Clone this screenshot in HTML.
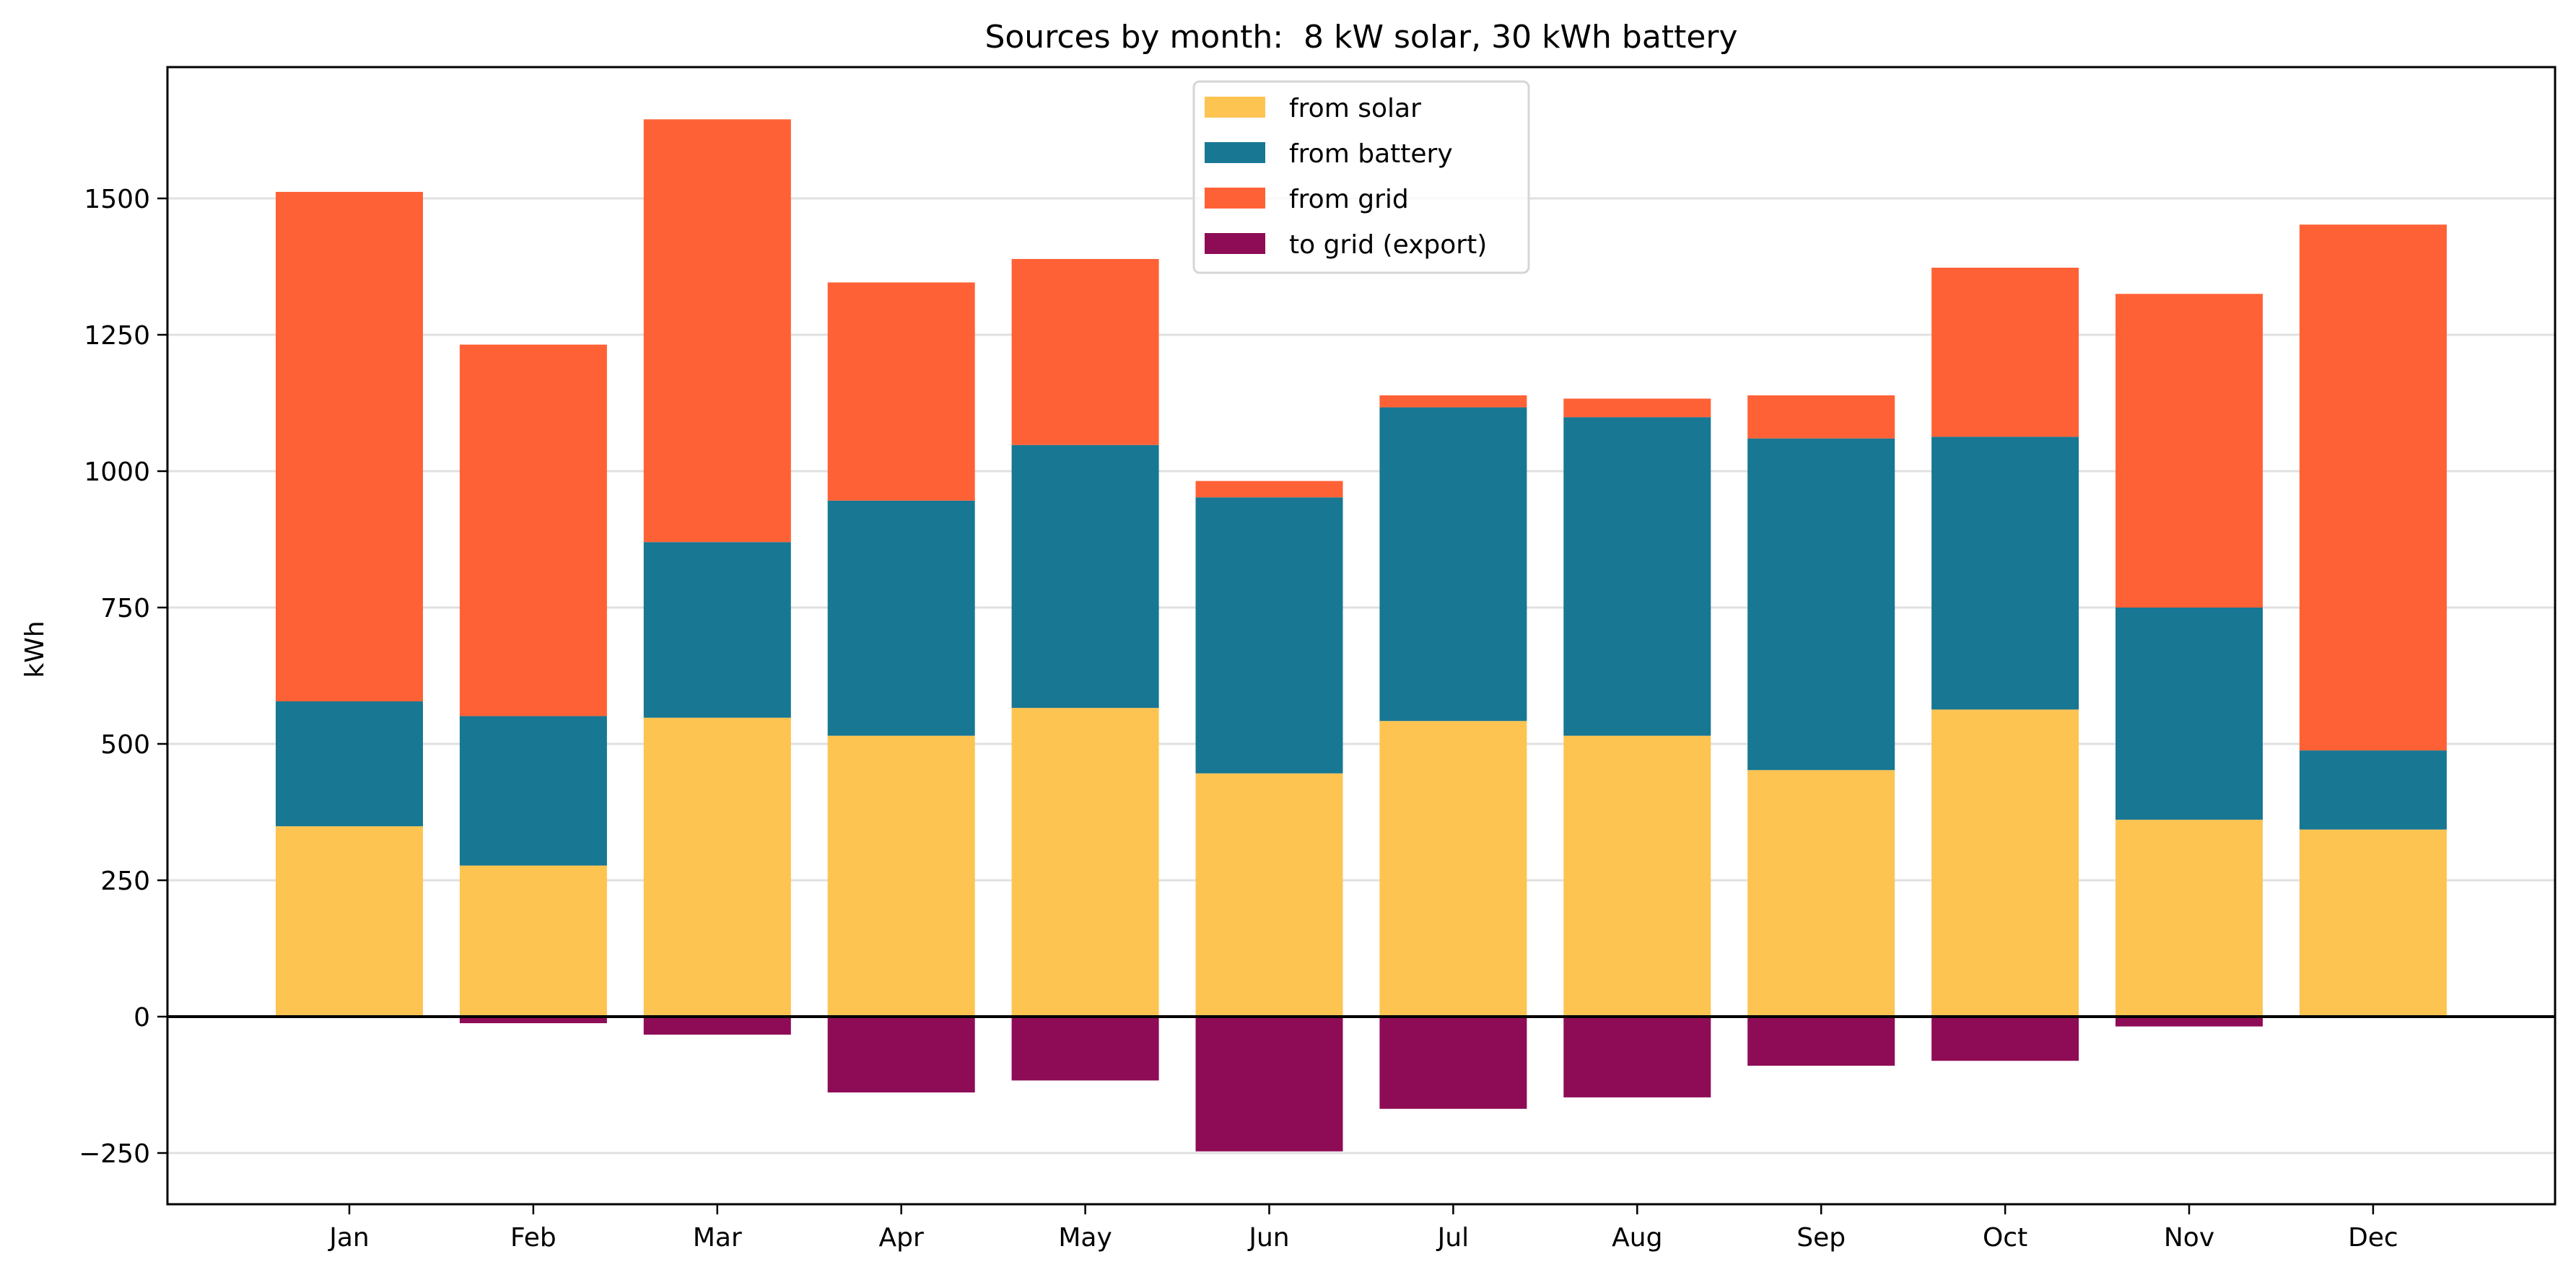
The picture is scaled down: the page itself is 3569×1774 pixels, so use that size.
<!DOCTYPE html>
<html><head><meta charset="utf-8"><style>
html,body{margin:0;padding:0;background:#fff;}
svg text{font-family:"DejaVu Sans","Liberation Sans",sans-serif;fill:#000;}
</style></head><body>
<svg id="chart" width="3569" height="1769" viewBox="0 0 3569 1769" xmlns="http://www.w3.org/2000/svg">
<rect width="3569" height="1769" fill="#fff"/>
<g id="grid"></g>
<g id="bars"></g>
<g id="axes"></g>
<text x="1886" y="66" font-size="44" text-anchor="middle">Sources by month:&#160; 8 kW solar, 30 kWh battery</text>
<text x="0" y="0" font-size="36" text-anchor="middle" transform="translate(60,900) rotate(-90)">kWh</text>
<g>
<rect x="1654" y="113" width="464" height="265" rx="8" fill="#fff" fill-opacity="0.8" stroke="#d6d6d6" stroke-width="3"/>
<g><rect x="1669" y="134" width="84" height="29" fill="#FDC452"/><text x="1786" y="162" font-size="36">from solar</text></g>
<g><rect x="1669" y="197" width="84" height="29" fill="#187793"/><text x="1786" y="225" font-size="36">from battery</text></g>
<g><rect x="1669" y="260" width="84" height="29" fill="#FF6136"/><text x="1786" y="288" font-size="36">from grid</text></g>
<g><rect x="1669" y="323" width="84" height="29" fill="#8E0C56"/><text x="1786" y="351" font-size="36">to grid (export)</text></g>
</g>
</svg>
<script>
const months = ["Jan","Feb","Mar","Apr","May","Jun","Jul","Aug","Sep","Oct","Nov","Dec"];
const fromSolar = [349,277,548,515,566,446,542,515,452,563,361,343];
const fromBattery = [229,274,322,431,482,506,575,584,608,500,389,145];
const fromGrid = [934,681,775,400,341,30,22,34,79,310,575,964];
const toGrid = [0,-12,-33,-139,-117,-247,-169,-148,-90,-81,-18,0];
const yTicks = [-250,0,250,500,750,1000,1250,1500];
const yTickLabels = ["\u2212250","0","250","500","750","1000","1250","1500"];

const L=232,R=3540,T=93,B=1669;
const Y0=1409, PXU=0.756;
function y(v){return Y0 - v*PXU;}
function xc(i){return 484 + i*254.9;}
const BW=204;
const NS="http://www.w3.org/2000/svg";
function mk(tag,attrs,parent){const e=document.createElementNS(NS,tag);for(const k in attrs)e.setAttribute(k,attrs[k]);parent.appendChild(e);return e;}
const grid=document.getElementById('grid'),bars=document.getElementById('bars'),axes=document.getElementById('axes');

yTicks.forEach((t,i)=>{
  const g=mk('line',{x1:L,x2:R,y1:y(t),y2:y(t),stroke:'#e0e0e0','stroke-width':3},grid);
  
  
  const tk=mk('line',{x1:L-14,x2:L,y1:y(t),y2:y(t),stroke:'#000','stroke-width':2.5},axes);
  
  
  const tx=mk('text',{x:L-24,y:y(t)+13,'font-size':36,'text-anchor':'end'},axes);
  tx.textContent=yTickLabels[i];
  
  
});

months.forEach((m,i)=>{
  const x=xc(i)-BW/2;
  const s=fromSolar[i],b=fromBattery[i],g=fromGrid[i],e=toGrid[i];
  const r1=mk('rect',{x:x,width:BW,y:y(s),height:y(0)-y(s),fill:'#FDC452'},bars);
  
  
  const r2=mk('rect',{x:x,width:BW,y:y(s+b),height:y(s)-y(s+b),fill:'#187793'},bars);
  
  
  const r3=mk('rect',{x:x,width:BW,y:y(s+b+g),height:y(s+b)-y(s+b+g),fill:'#FF6136'},bars);
  
  
  const r4=mk('rect',{x:x,width:BW,y:y(0),height:y(e)-y(0),fill:'#8E0C56'},bars);
  
  
  const tk=mk('line',{x1:xc(i),x2:xc(i),y1:B,y2:B+14,stroke:'#000','stroke-width':2.5},axes);
  
  
  const tx=mk('text',{x:xc(i),y:1727,'font-size':36,'text-anchor':'middle'},axes);
  tx.textContent=m;
  
  
});

const zl=mk('line',{x1:L,x2:R,y1:y(0),y2:y(0),stroke:'#000','stroke-width':4},axes);


const fr=mk('rect',{x:L,y:T,width:R-L,height:B-T,fill:'none',stroke:'#000','stroke-width':3},axes);


</script>
</body></html>
